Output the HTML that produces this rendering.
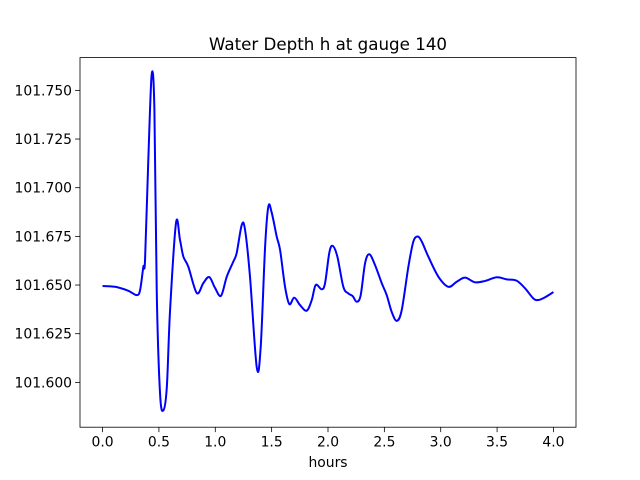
<!DOCTYPE html>
<html><head><meta charset="utf-8"><style>
html,body{margin:0;padding:0;background:#fff}
svg{display:block;font-family:"DejaVu Sans","Liberation Sans",sans-serif}
</style></head><body>
<svg id="chart" width="640" height="480" viewBox="0 0 640 480">
<rect x="0" y="0" width="640" height="480" fill="#fff"/>
<text x="328" y="50" font-size="16.7" text-anchor="middle" fill="#000">Water Depth h at gauge 140</text>
<g id="plot"></g>
<rect x="80" y="57.6" width="496" height="369.6" fill="none" stroke="#000" stroke-width="0.8"/>
<g id="xaxis"></g>
<g id="yaxis"></g>
<text x="328" y="467" font-size="13.9" text-anchor="middle" fill="#000">hours</text>
</svg>
<script>
const hours=[0.0,0.111,0.226,0.303,0.333,0.362,0.377,0.406,0.436,0.460,0.481,0.510,0.539,0.570,0.599,0.652,0.687,0.717,0.761,0.836,0.894,0.947,0.998,1.051,1.102,1.160,1.190,1.235,1.264,1.308,1.368,1.403,1.442,1.471,1.501,1.545,1.575,1.619,1.657,1.701,1.752,1.811,1.856,1.891,1.944,1.974,2.012,2.042,2.083,2.136,2.180,2.219,2.255,2.290,2.329,2.367,2.417,2.477,2.521,2.565,2.610,2.654,2.713,2.757,2.796,2.832,2.890,2.979,3.068,3.142,3.216,3.304,3.393,3.497,3.586,3.674,3.748,3.822,3.866,3.925,4.0];
const depth=[101.6495,101.6491,101.6471,101.6448,101.6474,101.6594,101.6629,101.7144,101.7582,101.7402,101.6459,101.5943,101.5856,101.5974,101.6371,101.6820,101.6732,101.6646,101.6594,101.6459,101.6510,101.6541,101.6485,101.6445,101.6543,101.6620,101.6665,101.6809,101.6784,101.6543,101.6077,101.6182,101.6697,101.6904,101.6871,101.6749,101.6680,101.6491,101.6402,101.6435,101.6397,101.6368,101.6423,101.6500,101.6478,101.6510,101.6667,101.6701,101.6646,101.6491,101.6457,101.6443,101.6414,101.6448,101.6612,101.6658,101.6603,101.6509,101.6448,101.6362,101.6316,101.6371,101.6594,101.6723,101.6749,101.6723,101.6646,101.6543,101.6491,101.6517,101.6538,101.6514,101.6521,101.6540,101.6529,101.6522,101.6483,101.6431,101.6423,101.6437,101.6464];
const xTicks=[0.0,0.5,1.0,1.5,2.0,2.5,3.0,3.5,4.0];
const xTickLabels=["0.0","0.5","1.0","1.5","2.0","2.5","3.0","3.5","4.0"];
const yTicks=[101.600,101.625,101.650,101.675,101.700,101.725,101.750];
const yTickLabels=["101.600","101.625","101.650","101.675","101.700","101.725","101.750"];

const NS="http://www.w3.org/2000/svg";
const L=80,R=576,T=57.6,B=427.2;
const xmin=Math.min(...hours),xmax=Math.max(...hours);
const ymin=Math.min(...depth),ymax=Math.max(...depth);
const xpad=(xmax-xmin)*0.05,ypad=(ymax-ymin)*0.05;
const x=v=>L+(v-(xmin-xpad))/((xmax+xpad)-(xmin-xpad))*(R-L);
const y=v=>B-(v-(ymin-ypad))/((ymax+ypad)-(ymin-ypad))*(B-T);

const xa=document.getElementById('xaxis'),ya=document.getElementById('yaxis'),plot=document.getElementById('plot');
xTicks.forEach((t,i)=>{
  const l=document.createElementNS(NS,'line');
  l.setAttribute('x1',x(t));l.setAttribute('x2',x(t));l.setAttribute('y1',B);l.setAttribute('y2',B+4.9);
  l.setAttribute('stroke','#000');l.setAttribute('stroke-width','0.8');
  
  
  xa.appendChild(l);
  const tx=document.createElementNS(NS,'text');
  tx.setAttribute('x',x(t));tx.setAttribute('y',B+19.5);tx.setAttribute('font-size','13.9');tx.setAttribute('text-anchor','middle');
  tx.textContent=xTickLabels[i];
  
  
  xa.appendChild(tx);
});
yTicks.forEach((t,i)=>{
  const l=document.createElementNS(NS,'line');
  l.setAttribute('x1',L-4.9);l.setAttribute('x2',L);l.setAttribute('y1',y(t));l.setAttribute('y2',y(t));
  l.setAttribute('stroke','#000');l.setAttribute('stroke-width','0.8');
  
  
  ya.appendChild(l);
  const tx=document.createElementNS(NS,'text');
  tx.setAttribute('x',L-8);tx.setAttribute('y',y(t)+5);tx.setAttribute('font-size','13.9');tx.setAttribute('text-anchor','end');
  tx.textContent=yTickLabels[i];
  
  
  ya.appendChild(tx);
});
// smooth catmull-rom path
const P=hours.map((h,i)=>[x(h),y(depth[i])]);
let d='M'+P[0][0]+','+P[0][1];
for(let i=0;i<P.length-1;i++){
  const p0=P[Math.max(0,i-1)],p1=P[i],p2=P[i+1],p3=P[Math.min(P.length-1,i+2)];
  const c1=[p1[0]+(p2[0]-p0[0])/6,p1[1]+(p2[1]-p0[1])/6];
  const c2=[p2[0]-(p3[0]-p1[0])/6,p2[1]-(p3[1]-p1[1])/6];
  d+=' C'+c1[0]+','+c1[1]+' '+c2[0]+','+c2[1]+' '+p2[0]+','+p2[1];
}
const path=document.createElementNS(NS,'path');
path.setAttribute('d',d);path.setAttribute('fill','none');path.setAttribute('stroke','#0000ff');path.setAttribute('stroke-width','2');
path.setAttribute('stroke-linejoin','round');


plot.appendChild(path);
</script>
</body></html>
